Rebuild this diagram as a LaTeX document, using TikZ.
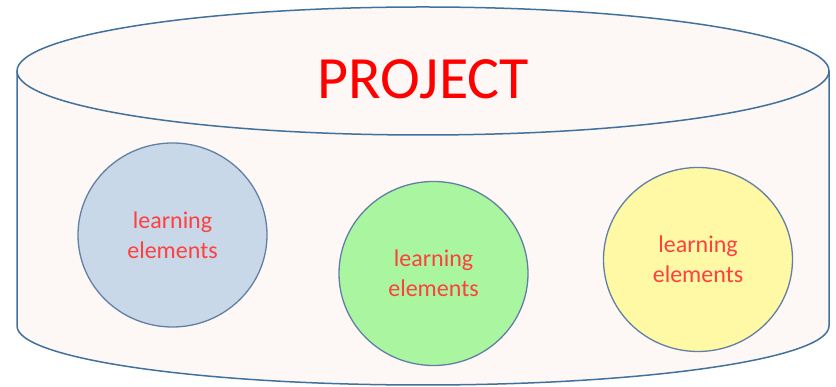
\documentclass[tikz,border=0pt]{standalone}
\usepackage{fontspec}
\setmainfont{Carlito}
\usetikzlibrary{shapes.geometric}
\definecolor{drumline}{RGB}{65,113,156}
\definecolor{drumfill}{RGB}{253,247,245}
\definecolor{elemline}{RGB}{98,128,165}
\definecolor{elemtext}{RGB}{255,64,64}
\definecolor{elemblue}{RGB}{200,216,232}
\definecolor{elemgreen}{RGB}{170,245,160}
\definecolor{elemyellow}{RGB}{255,248,165}
\tikzset{
  elem/.style={ellipse, draw=elemline, line width=1.3pt, minimum width=189pt,
    minimum height=184pt, inner sep=0pt, align=center, text=elemtext,
    font=\fontsize{24pt}{30pt}\selectfont}
}
\begin{document}
\begin{tikzpicture}[x=1pt, y=1pt]
  \useasboundingbox (0,0) rectangle (836,387);
  % drum body and lid
  \draw[drumline, line width=1.5pt, fill=drumfill] (17,316) -- (17,61)
    arc[start angle=180, end angle=360, x radius=406, y radius=59] -- (829,316);
  \draw[drumline, line width=1.5pt, fill=drumfill] (423,316) ellipse[x radius=406, y radius=64];
  \node[anchor=base, text=red, inner sep=0pt, font=\fontsize{60pt}{72pt}\selectfont]
    (project) at (423.5,288) {PROJECT};
  % the three elements
  \node[elem, fill=elemblue] (left) at (172.5,152) {learning\\elements};
  \node[elem, fill=elemgreen] (middle) at (433.5,113.5) {learning\\elements};
  \node[elem, fill=elemyellow] (right) at (698,127.5) {learning\\elements};
\end{tikzpicture}
\end{document}
